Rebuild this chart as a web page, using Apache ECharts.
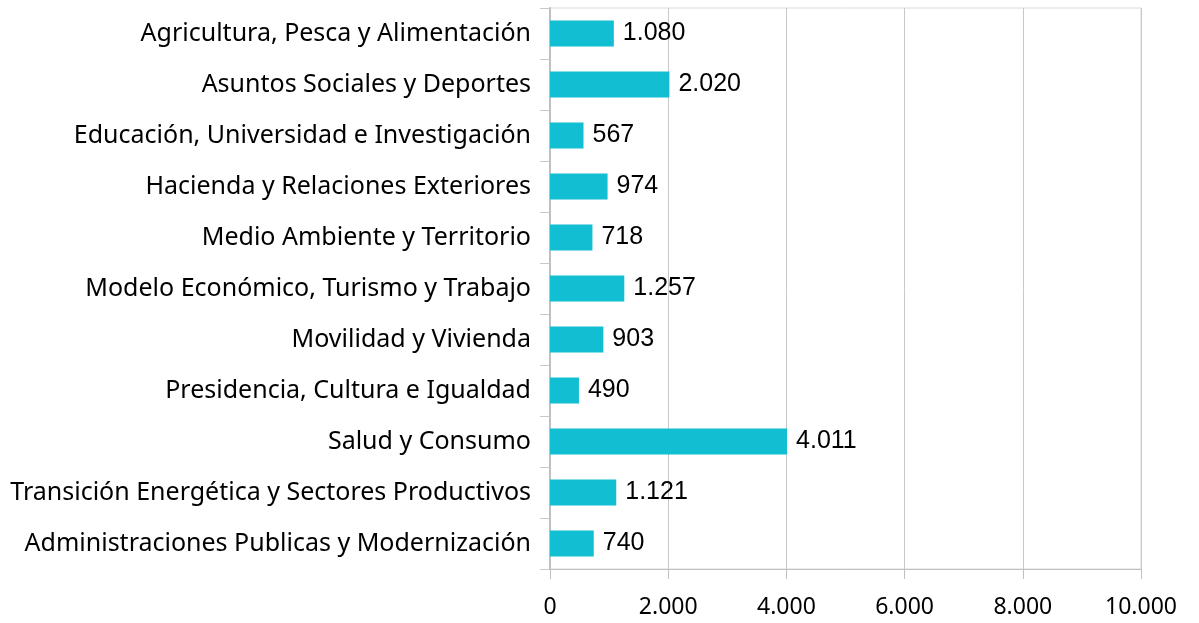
<!DOCTYPE html>
<html>
<head>
<meta charset="utf-8">
<script src="https://cdn.jsdelivr.net/npm/echarts@6/dist/echarts.min.js"></script>
<style>
    html, body { margin: 0; padding: 0; background: #fff; }
    #chart { width: 1199px; height: 623px; }
</style>
</head>
<body>
<div id="chart"></div>
<script>
const categories = [
    'Agricultura, Pesca y Alimentación',
    'Asuntos Sociales y Deportes',
    'Educación, Universidad e Investigación',
    'Hacienda y Relaciones Exteriores',
    'Medio Ambiente y Territorio',
    'Modelo Económico, Turismo y Trabajo',
    'Movilidad y Vivienda',
    'Presidencia, Cultura e Igualdad',
    'Salud y Consumo',
    'Transición Energética y Sectores Productivos',
    'Administraciones Publicas y Modernización'
]
const values = [1080, 2020, 567, 974, 718, 1257, 903, 490, 4011, 1121, 740]

// separador de miles con punto
const fmt = v => String(v).replace(/\B(?=(\d{3})+(?!\d))/g, '.')

echarts.init(document.getElementById('chart')).setOption({
    animation: false,
    grid: {
        left: 550,
        right: 58,
        top: 8,
        bottom: 54,
        show: true,
        borderColor: '#d9d9d9',
        borderWidth: 1
    },
    xAxis: {
        type: 'value',
        min: 0,
        max: 10000,
        interval: 2000,
        axisLine: { show: true, lineStyle: { color: '#c0c0c0' } },
        axisTick: { show: true, length: 10, lineStyle: { color: '#c0c0c0' } },
        axisLabel: {
            margin: 27,
            fontFamily: 'Noto Sans',
            fontSize: 23,
            color: '#000',
            formatter: fmt
        },
        splitLine: { show: true, lineStyle: { color: '#c8c8c8' } }
    },
    yAxis: {
        type: 'category',
        inverse: true,
        data: categories,
        axisLine: { show: true, lineStyle: { color: '#c0c0c0', width: 2 } },
        axisTick: { show: true, length: 10, lineStyle: { color: '#c8c8c8' } },
        axisLabel: {
            margin: 19,
            fontFamily: 'Noto Sans',
            fontSize: 25,
            color: '#000'
        }
    },
    series: [{
        type: 'bar',
        data: values,
        barWidth: 26,
        itemStyle: { color: '#12bed1' },
        label: {
            show: true,
            position: 'right',
            distance: 9,
            fontFamily: 'Liberation Sans',
            fontSize: 25,
            color: '#000',
            formatter: p => fmt(p.value)
        }
    }]
})
</script>
</body>
</html>
